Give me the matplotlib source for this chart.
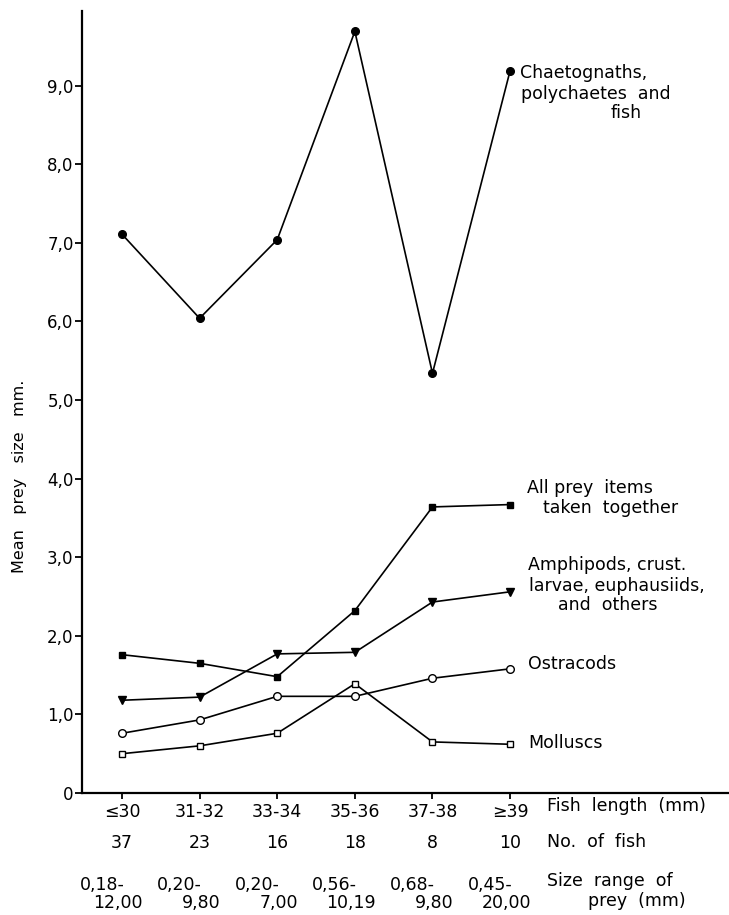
import matplotlib
matplotlib.use("Agg")
import matplotlib.pyplot as plt

plt.rcParams['font.family'] = ['DejaVu Sans']

# fish length classes
length_labels = ["≤30", "31-32", "33-34", "35-36", "37-38", "≥39"]
n_fish = ["37", "23", "16", "18", "8", "10"]
range_low = ["0,18-", "0,20-", "0,20-", "0,56-", "0,68-", "0,45-"]
range_high = ["12,00", "9,80", "7,00", "10,19", "9,80", "20,00"]

# mean prey size (mm) per group
chaeto = [7.11, 6.04, 7.04, 9.69, 5.34, 9.19]
all_prey = [1.76, 1.65, 1.48, 2.32, 3.64, 3.67]
amphipods = [1.18, 1.22, 1.77, 1.79, 2.43, 2.56]
ostracods = [0.76, 0.93, 1.23, 1.23, 1.46, 1.58]
molluscs = [0.50, 0.60, 0.76, 1.39, 0.65, 0.62]

x = list(range(len(length_labels)))

fig = plt.figure(figsize=(7.29, 9.15), dpi=100)
ax = fig.add_axes([82/729, 1-793/915, 1-82/729, (793-11)/915])

lw = 1.2
ax.plot(x, chaeto, '-o', color='black', lw=lw, ms=5.5)
ax.plot(x, all_prey, '-s', color='black', lw=lw, ms=5)
ax.plot(x, amphipods, '-v', color='black', lw=lw, ms=5.5)
ax.plot(x, ostracods, '-o', color='black', lw=lw, ms=5.5, mfc='white', mew=1)
ax.plot(x, molluscs, '-s', color='black', lw=lw, ms=4.5, mfc='white', mew=1)

ax.set_xlim(-0.515, 7.82)
ax.set_ylim(0, 9.95)
ax.spines['top'].set_visible(False)
ax.spines['right'].set_visible(False)
ax.spines['left'].set_linewidth(1.6)
ax.spines['bottom'].set_linewidth(1.6)

fs = 12.5
ax.set_yticks(range(10))
ax.set_yticklabels(["0"] + ["%d,0" % i for i in range(1, 10)], fontsize=12)
ax.tick_params(axis='y', direction='out', length=5, width=1.3, pad=1)
ax.set_xticks(x)
ax.set_xticklabels(length_labels, fontsize=fs)
ax.tick_params(axis='x', direction='out', length=4, width=1.3, pad=3)

# rows under the axis
for i in x:
    ax.annotate(n_fish[i], xy=(i, 0), xycoords=('data', 'axes fraction'),
                xytext=(0, -50), textcoords='offset pixels',
                ha='center', va='center', fontsize=fs)
    ax.annotate(range_low[i], xy=(i, 0), xycoords=('data', 'axes fraction'),
                xytext=(-20, -92), textcoords='offset pixels',
                ha='center', va='center', fontsize=fs)
    ax.annotate(range_high[i], xy=(i, 0), xycoords=('data', 'axes fraction'),
                xytext=(21, -110), textcoords='offset pixels',
                ha='right', va='center', fontsize=fs)

def ftext(px, py, s, **kw):
    fig.text(px/729, 1-py/915, s, fontsize=fs, va='center', **kw)

ftext(547, 806, "Fish  length  (mm)")
ftext(547, 842, "No.  of  fish")
ftext(547, 881, "Size  range  of")
ftext(588, 901, "prey  (mm)")

ftext(520, 73, "Chaetognaths,")
ftext(521, 94, "polychaetes  and")
ftext(611, 113, "fish")
ftext(527, 488, "All prey  items")
ftext(543, 508, "taken  together")
ftext(528, 565, "Amphipods, crust.")
ftext(529, 586, "larvae, euphausiids,")
ftext(558, 605, "and  others")
ftext(528, 664, "Ostracods")
ftext(528, 743, "Molluscs")

fig.text(20/729, 1-476/915, "Mean   prey   size   mm.", rotation=90,
         ha='center', va='center', fontsize=11.5)

fig.savefig("out.png", dpi=100)
